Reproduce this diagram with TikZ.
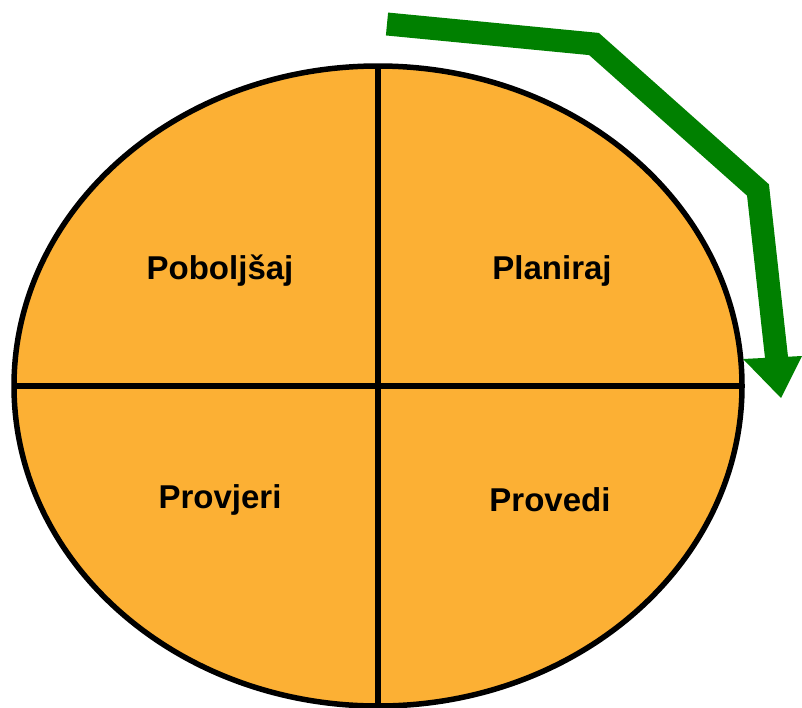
\documentclass[tikz,border=0pt]{standalone}
\usepackage{fontspec}
\setmainfont{Liberation Sans}
\definecolor{segfill}{HTML}{FCB034}
\definecolor{arrowgreen}{HTML}{008000}
\begin{document}
\begin{tikzpicture}[x=1pt,y=-1pt,
  lbl/.style={font=\bfseries\fontsize{33}{38}\selectfont, text=black, inner sep=0pt},
  divider/.style={line width=5.5pt, draw=black}]
\useasboundingbox (0,0) rectangle (802,707);
% ellipse
\coordinate (c) at (378,386);
\fill[segfill] (c) ellipse [x radius=364, y radius=320];
\coordinate (t) at (378,66);
\coordinate (b) at (378,706);
\coordinate (l) at (14,386);
\coordinate (r) at (742,386);
\draw[divider] (t) -- (b);
\draw[divider] (l) -- (r);
\draw[line width=5.5pt] (c) ellipse [x radius=364, y radius=320];
% labels
\node[lbl] (p1) at (220,271) {Poboljšaj};
\node[lbl] (p2) at (552,271) {Planiraj};
\node[lbl] (p3) at (220,500) {Provjeri};
\node[lbl] (p4) at (550,500) {Provedi};
% green arrow
\coordinate (a0) at (387,24);
\coordinate (a1) at (594,44);
\coordinate (a2) at (758,190);
\coordinate (a3) at (777,362);
\draw[arrowgreen, line width=23pt, line join=miter] (a0) -- (a1) -- (a2) -- (a3);
\coordinate (h1) at (743,359);
\coordinate (h2) at (802,356);
\coordinate (h3) at (781,398);
\fill[arrowgreen] (h1) -- (h2) -- (h3) -- cycle;
\end{tikzpicture}
\end{document}
